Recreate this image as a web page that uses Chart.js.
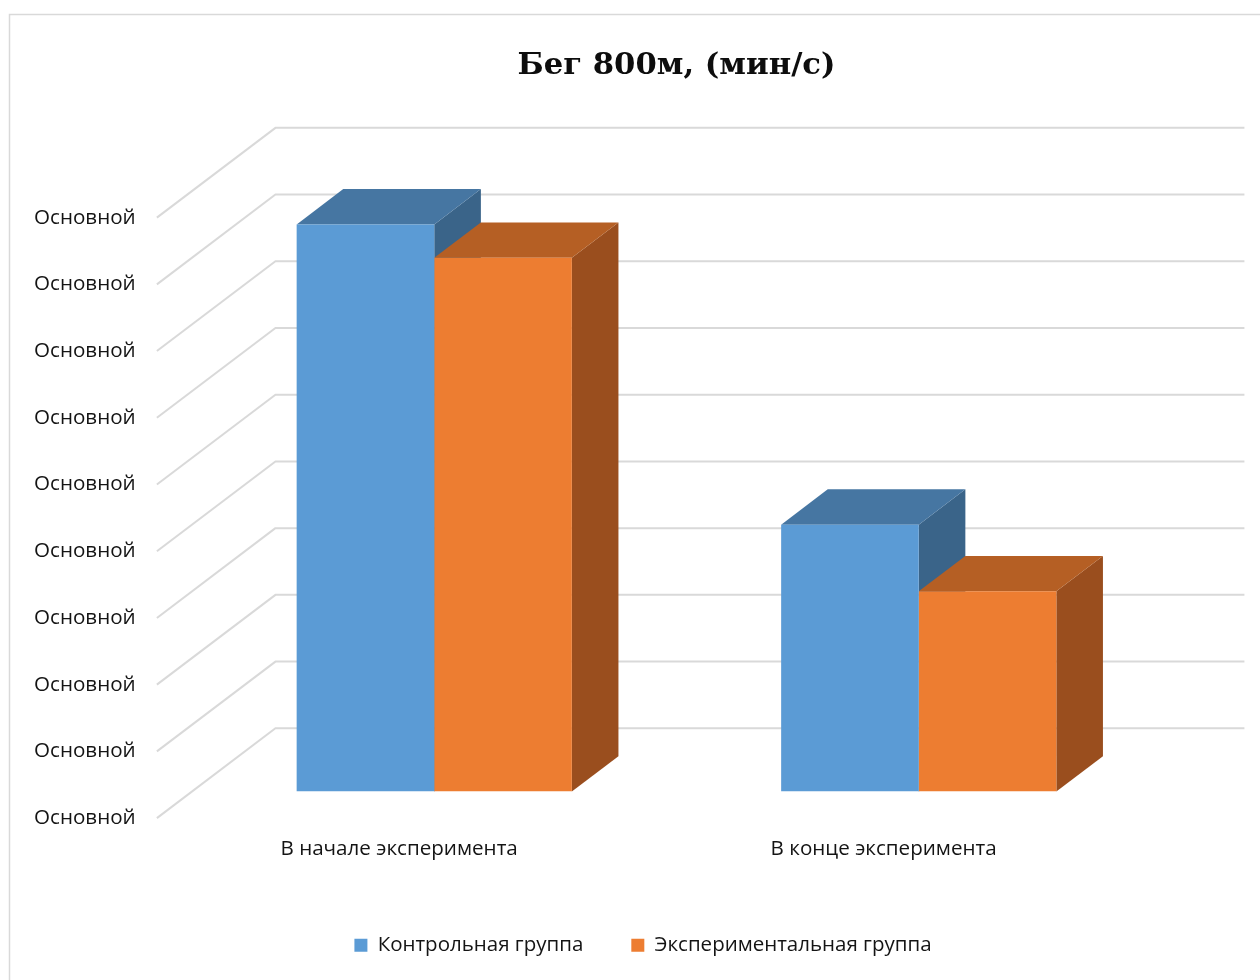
<!DOCTYPE html>
<html lang="ru">
<head>
<meta charset="utf-8">
<title>Бег 800м, (мин/с)</title>
<script src="https://cdn.jsdelivr.net/npm/chart.js@4.4.1/dist/chart.umd.min.js"></script>
<style>
  html, body { margin: 0; padding: 0; background: #ffffff; overflow: hidden; }
  #wrap { position: relative; width: 1260px; height: 980px; }
</style>
</head>
<body>
<div id="wrap"><canvas id="chart" width="1260" height="980"></canvas></div>
<script>
// ---- data ----
const chartTitle = 'Бег 800м, (мин/с)';
const categories = ['В начале эксперимента', 'В конце эксперимента'];
const seriesNames = ['Контрольная группа', 'Экспериментальная группа'];
const controlValues = [8.5, 4];
const experimentalValues = [8, 3];
const yTickLabels = ['Основной', 'Основной', 'Основной', 'Основной', 'Основной',
                     'Основной', 'Основной', 'Основной', 'Основной', 'Основной'];

// ---- look ----
// oblique depth: the bar front plane sits between the front edge of the floor and the back wall
const FRONT_DROP = 26.6;   // px from the bar plane down to the floor's front edge
const BACK_RISE = 63.2;    // px from the bar plane up to the back wall
const BAR_RISE = 35.3;     // px of depth of each column
const SKEW = 1.32;         // horizontal px per vertical px of depth
const Y_AXIS_WIDTH = 67;   // y axis box; its labels start further left
const Y_LABEL_LEFT = 34;   // x where the y labels begin
const faceColors = [
  { front: '#5b9bd5', top: '#4676a2', side: '#3a6489' },
  { front: '#ed7d31', top: '#b55f24', side: '#9a4e1e' }
];
const GRID_COLOR = '#d9d9d9';
const TEXT_COLOR = '#141414';
const axisFont = { family: 'Open Sans', size: 20.6 };
const legendFont = { family: 'Open Sans', size: 20.5 };
const LAYOUT_LEFT = 125;

function fillPoly(ctx, pts) {
  ctx.beginPath();
  ctx.moveTo(pts[0][0], pts[0][1]);
  for (let i = 1; i < pts.length; i++) ctx.lineTo(pts[i][0], pts[i][1]);
  ctx.closePath();
  ctx.fill();
}

// walls, gridlines and the top/side faces of the columns
const depthPlugin = {
  id: 'depth3d',
  beforeDraw(chart) {
    const { ctx } = chart;
    ctx.save();
    ctx.fillStyle = '#ffffff';
    ctx.fillRect(0, 0, chart.width, chart.height);
    ctx.strokeStyle = GRID_COLOR;
    ctx.lineWidth = 1.5;
    ctx.strokeRect(9.5, 14.5, chart.width + 100, chart.height + 100);
    ctx.restore();
  },
  beforeDatasetsDraw(chart) {
    const { ctx, chartArea: a } = chart;
    const yScale = chart.scales.y;
    ctx.save();
    ctx.strokeStyle = GRID_COLOR;
    ctx.lineWidth = 2;
    ctx.lineJoin = 'round';
    const frontX = a.left - FRONT_DROP * SKEW;
    const backX = a.left + BACK_RISE * SKEW;
    const backRight = a.right + BACK_RISE * SKEW;
    yScale.ticks.forEach(t => {
      const py = yScale.getPixelForValue(t.value);
      ctx.beginPath();
      ctx.moveTo(frontX, py + FRONT_DROP);
      ctx.lineTo(backX, py - BACK_RISE);
      ctx.lineTo(backRight, py - BACK_RISE);
      ctx.stroke();
    });

    const bars = [];
    chart.data.datasets.forEach((ds, di) => {
      if (!chart.isDatasetVisible(di)) return;
      chart.getDatasetMeta(di).data.forEach(el => bars.push({ el, c: faceColors[di] }));
    });
    bars.sort((p, q) => p.el.x - q.el.x);
    const dx = BAR_RISE * SKEW, dy = BAR_RISE;
    bars.forEach(({ el, c }) => {
      const { x, y, base, width } = el.getProps(['x', 'y', 'base', 'width'], true);
      const l = x - width / 2, r = x + width / 2;
      ctx.fillStyle = c.side;
      fillPoly(ctx, [[r, y], [r + dx, y - dy], [r + dx, base - dy], [r, base]]);
      ctx.fillStyle = c.top;
      fillPoly(ctx, [[l, y], [r, y], [r + dx, y - dy], [l + dx, y - dy]]);
    });
    ctx.restore();
  }
};

new Chart(document.getElementById('chart'), {
  type: 'bar',
  data: {
    labels: categories,
    datasets: [
      { label: seriesNames[0], data: controlValues, backgroundColor: faceColors[0].front, borderWidth: 0 },
      { label: seriesNames[1], data: experimentalValues, backgroundColor: faceColors[1].front, borderWidth: 0 }
    ]
  },
  options: {
    responsive: false,
    animation: false,
    events: [],
    layout: { padding: { left: LAYOUT_LEFT, right: 99, top: 0, bottom: 14.5 } },
    datasets: { bar: { categoryPercentage: 0.568, barPercentage: 1 } },
    plugins: {
      title: {
        display: true,
        text: chartTitle,
        fullSize: false,
        color: '#0d0d0d',
        font: { family: 'DejaVu Serif', size: 30.7, weight: 'bold', lineHeight: 1.2 },
        padding: { top: 47.6, bottom: 106.6 }
      },
      legend: {
        position: 'bottom',
        labels: { boxWidth: 13, boxHeight: 13, padding: 48, color: TEXT_COLOR, font: legendFont }
      },
      tooltip: { enabled: false }
    },
    scales: {
      x: {
        grid: { display: false, drawTicks: false },
        border: { display: false },
        ticks: {
          padding: 45.4, labelOffset: -FRONT_DROP * SKEW,
          maxRotation: 0, autoSkip: false, color: TEXT_COLOR, font: axisFont
        },
        afterFit: s => { s.height = 95.5; }
      },
      y: {
        min: 0, max: 9,
        grid: { display: false, drawTicks: false },
        border: { display: false },
        ticks: {
          stepSize: 1, labelOffset: FRONT_DROP,
          // labels are placed from the axis' right edge, left-aligned at Y_LABEL_LEFT
          mirror: true, padding: Y_LABEL_LEFT - (LAYOUT_LEFT + Y_AXIS_WIDTH),
          color: TEXT_COLOR, font: axisFont,
          callback: (v, i) => yTickLabels[i]
        },
        afterFit: s => { s.width = Y_AXIS_WIDTH; }
      }
    }
  },
  plugins: [depthPlugin]
});
</script>
</body>
</html>
